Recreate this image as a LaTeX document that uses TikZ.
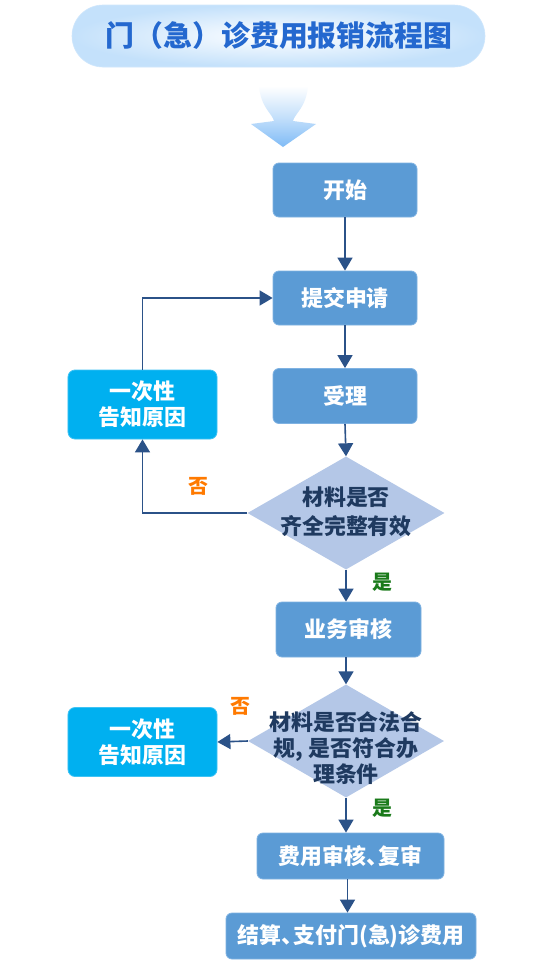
\documentclass[tikz,border=0pt]{standalone}
\usepackage{fontspec}
\setmainfont{Noto Sans CJK SC}
\usetikzlibrary{shapes.geometric,arrows.meta}
\definecolor{boxblue}{HTML}{5B9BD5}
\definecolor{boxedge}{HTML}{7FB2E2}
\definecolor{reasonfill}{HTML}{00B0F0}
\definecolor{reasonedge}{HTML}{3FC3F4}
\definecolor{decfill}{HTML}{B4C7E7}
\definecolor{dectxt}{HTML}{1F3A60}
\definecolor{arrcol}{HTML}{2B5288}
\definecolor{nocol}{HTML}{FF7A00}
\definecolor{yescol}{HTML}{1A7A1A}
\definecolor{titleblue}{HTML}{2468CF}
\definecolor{pillblue}{HTML}{C4E1FB}
\definecolor{downblue}{HTML}{7FBBF6}
\newcommand\narrowdun{\makebox[0.55em][l]{、}}
\tikzset{
  procbox/.style={rectangle, rounded corners=6bp, fill=boxblue, draw=boxedge, line width=0.8bp,
    text=white, inner sep=0pt, font=\fontsize{22}{26}\selectfont\bfseries, align=center},
  reasonbox/.style={rectangle, rounded corners=7bp, fill=reasonfill, draw=reasonedge, line width=0.8bp,
    text=white, inner sep=0pt, minimum width=149bp, minimum height=69bp,
    font=\fontsize{22}{26}\selectfont\bfseries, align=center},
  decbox/.style={diamond, fill=decfill, draw=none, inner sep=0pt},
  dectext/.style={text=dectxt, font=\fontsize{22}{26}\selectfont\bfseries, align=center, inner sep=0pt},
  arr/.style={draw=arrcol, line width=1.6bp, -{Triangle[width=15bp,length=13bp]}},
  nolabel/.style={text=nocol, font=\fontsize{20}{22}\selectfont\bfseries, inner sep=0pt},
  yeslabel/.style={text=yescol, font=\fontsize{20}{22}\selectfont\bfseries, inner sep=0pt}
}
\begin{document}
\begin{tikzpicture}[x=1bp,y=-1bp]
\useasboundingbox (0,0) rectangle (553,980);
\fill[white] (0,0) rectangle (553,980);

% title pill
\shade[rounded corners=31bp, inner color=white, outer color=pillblue] (72,5) rectangle (485,67);
\draw[rounded corners=31bp, draw=pillblue!80!white, line width=0.6bp] (72,5) rectangle (485,67);
\node[text=titleblue, font=\fontsize{29}{34}\selectfont\bfseries, inner sep=0pt] (title) at (279,36) {门（急）诊费用报销流程图};

% big down arrow
\shade[top color=white, bottom color=downblue, middle color=downblue!45!white]
  (259,86) .. controls (261,108) and (272,113) .. (274,121)
  -- (251,124) -- (283,147) -- (316,124) -- (293,121)
  .. controls (295,113) and (306,108) .. (308,86) -- cycle;

% main flow
\node[procbox, minimum width=144bp, minimum height=54bp] (start) at (345,190) {开始};
\node[procbox, minimum width=144bp, minimum height=54bp] (submit) at (345,298) {提交申请};
\node[procbox, minimum width=144bp, minimum height=55bp] (accept) at (345,396) {受理};
\node[decbox, minimum width=197bp, minimum height=113bp] (d1) at (346,513) {};
\node[dectext] (d1t) at (346,512) {材料是否\\[3bp]齐全完整有效};
\node[procbox, minimum width=145bp, minimum height=55bp] (audit) at (348.5,629.5) {业务审核};
\node[decbox, minimum width=196bp, minimum height=113bp] (d2) at (346,741) {};
\node[dectext] (d2t) at (346,748) {材料是否合法合\\规, 是否符合办\\理条件};
\node[procbox, minimum width=187bp, minimum height=46bp] (fee) at (350.5,856) {费用审核\narrowdun 复审};
\node[procbox, minimum width=250bp, minimum height=46bp] (settle) at (351,936) {结算\narrowdun 支付门(急)诊费用};

\node[reasonbox] (r1) at (142.5,404.5) {一次性\\告知原因};
\node[reasonbox] (r2) at (142.5,742) {一次性\\告知原因};

% labels
\node[nolabel] (no1) at (198,486) {否};
\node[yeslabel] (yes1) at (382,582) {是};
\node[nolabel] (no2) at (240,706) {否};
\node[yeslabel] (yes2) at (382,808) {是};

% connectors
\draw[arr] (start.south) -- (submit.north);
\draw[arr] (submit.south) -- (accept.north);
\draw[arr] (accept.south) -- (d1.north);
\draw[arr] (d1.south) -- (d1.south |- audit.north);
\draw[arr] (d1.south |- audit.south) -- (d2.north);
\draw[arr] (d2.south) -- (d2.south |- fee.north);
\draw[arr] ([xshift=-3bp]fee.south) -- ([xshift=-3bp]fee.south |- settle.north);
\draw[arr] (d1.west) -| (r1.south);
\draw[arr] (r1.north) |- (submit.west);
\draw[arr] (d2.west) -- (r2.east);
\end{tikzpicture}
\end{document}
